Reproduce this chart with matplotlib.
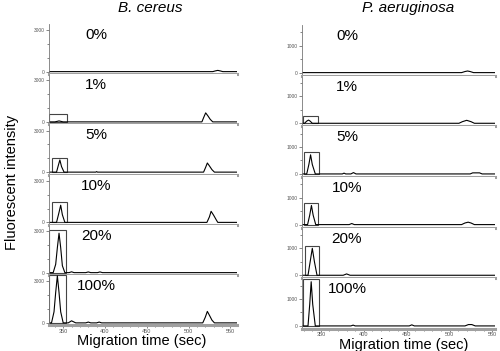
import matplotlib.pyplot as plt
from matplotlib.patches import Rectangle
from matplotlib.ticker import MultipleLocator

plt.rcParams['font.family'] = ['Liberation Sans', 'DejaVu Sans']

# percent labels shared by both columns
levels = ['0%', '1%', '5%', '10%', '20%', '100%']

# B. cereus traces (migration time in sec, fluorescent intensity)
bc_times = [
    [333, 529, 532, 535, 538, 541, 558],
    [333, 340, 343, 345, 347, 350, 516, 518, 520.5, 523, 526, 529, 558],
    [333, 342, 344, 346, 348, 351, 389, 390, 391, 518, 520.5, 522.5, 525, 528, 531, 558],
    [333, 342, 344.5, 347, 349, 352, 522, 525, 527, 530, 533, 535, 558],
    [333, 338, 341, 343, 345, 347, 349, 352, 357, 360, 363, 377, 380, 383, 391, 394, 397, 558],
    [333, 336, 339, 341, 343, 345, 347, 350, 356, 360, 365, 377, 380, 383, 390, 393, 396,
     517, 520, 522.5, 525, 528, 531, 558],
]
bc_vals = [
    [0, 0, 50, 90, 50, 0, 0],
    [0, 0, 40, 70, 40, 0, 0, 300, 650, 450, 180, 0, 0],
    [0, 0, 450, 880, 400, 0, 0, 40, 0, 0, 350, 660, 450, 180, 0, 0],
    [0, 0, 600, 1240, 550, 0, 0, 400, 800, 520, 200, 0, 0],
    [0, 0, 600, 1800, 2850, 1800, 500, 0, 0, 60, 0, 0, 50, 0, 0, 50, 0, 0],
    [0, 0, 800, 2200, 3400, 2200, 800, 0, 0, 150, 0, 0, 60, 0, 0, 60, 0,
     0, 400, 830, 550, 200, 0, 0],
]
# boxes around the first peak: (start, end, top); None = no box
bc_boxes = [None, (333.5, 354, 550), (336.5, 354.5, 1000), (336.5, 354.5, 1460),
            (333.5, 353, 3050), (333.5, 353, 3440)]

# P. aeruginosa traces
pa_times = [
    [328, 514, 518, 521, 524, 528, 553],
    [328, 331, 333.5, 335.6, 337.5, 340, 511, 515, 520, 525, 529, 553],
    [328, 333.5, 336, 338, 340, 343.5, 375, 377, 379, 385, 388, 391, 524, 527, 535, 538, 553],
    [328, 334.5, 337, 339, 341, 344, 383, 386, 389, 514, 518, 521.7, 525, 529, 553],
    [328, 335, 337.5, 340, 342.5, 345.5, 376, 380, 384, 553],
    [328, 335, 337, 338.7, 340.5, 343.5, 385, 387.6, 390, 453, 456, 459, 518, 522, 526, 530, 553],
]
pa_vals = [
    [0, 0, 40, 60, 40, 0, 0],
    [0, 0, 80, 120, 80, 0, 0, 60, 110, 60, 0, 0],
    [0, 0, 350, 710, 350, 0, 0, 30, 0, 0, 50, 0, 0, 40, 40, 0, 0],
    [0, 0, 350, 710, 350, 0, 0, 40, 0, 0, 60, 90, 60, 0, 0],
    [0, 0, 500, 1000, 500, 0, 0, 50, 0, 0],
    [0, 0, 800, 1640, 800, 0, 0, 30, 0, 0, 40, 0, 0, 50, 50, 0, 0],
]
pa_boxes = [None, (328.6, 346.5, 280), (330, 348.4, 820), (330, 347, 820),
            (331, 347.7, 1100), (328.6, 348, 1740)]


def draw_column(fig, left, width, top, bottom, times, vals, boxes,
                xlim, ylim, ymajor, yminor, label_x):
    n = len(times)
    h = (top - bottom) / n
    axes = []
    for i in range(n):
        ax = fig.add_axes([left, top - (i + 1) * h, width, h])
        ax.plot(times[i], vals[i], color='black', lw=0.8)
        if boxes[i] is not None:
            x0, x1, yt = boxes[i]
            ax.add_patch(Rectangle((x0, 0), x1 - x0, yt, fill=False,
                                   edgecolor='#444444', lw=0.8))
        ax.set_xlim(*xlim)
        ax.set_ylim(*ylim)
        ax.set_yticks([0, ymajor])
        ax.yaxis.set_minor_locator(MultipleLocator(yminor))
        ax.xaxis.set_major_locator(MultipleLocator(50))
        ax.xaxis.set_minor_locator(MultipleLocator(10))
        ax.tick_params(which='both', direction='out', width=0.5, colors='#555555',
                       labelsize=3.5, pad=1)
        ax.tick_params(which='major', length=2)
        ax.tick_params(which='minor', length=1.3)
        for s in ['top', 'right']:
            ax.spines[s].set_visible(False)
        ax.spines['left'].set_color('#777777')
        ax.spines['left'].set_linewidth(0.6)
        ax.spines['bottom'].set_color('#a0a0a0')
        ax.spines['bottom'].set_linewidth(2.2)
        if i < n - 1:
            ax.tick_params(axis='x', which='both', bottom=False, labelbottom=False)
        else:
            ax.tick_params(axis='x', labelsize=4, pad=0.3)
        ax.text(label_x, 0.78, levels[i], transform=ax.transAxes,
                ha='center', va='center', fontsize=11)
        axes.append(ax)
    return axes


fig = plt.figure(figsize=(5.0, 3.51), dpi=100)

draw_column(fig, 0.098, 0.376, 0.932, 0.073, bc_times, bc_vals, bc_boxes,
            (333, 558), (-180, 3450), 3000, 1000, 0.25)
draw_column(fig, 0.604, 0.386, 0.929, 0.063, pa_times, pa_vals, pa_boxes,
            (328, 553), (-110, 1770), 1000, 500, 0.233)

fig.text(0.30, 0.978, 'B. cereus', style='italic', fontsize=11, ha='center', va='center')
fig.text(0.816, 0.978, 'P. aeruginosa', style='italic', fontsize=11, ha='center', va='center')
fig.text(0.284, 0.029, 'Migration time (sec)', fontsize=10.5, ha='center', va='center')
fig.text(0.808, 0.018, 'Migration time (sec)', fontsize=10.5, ha='center', va='center')
fig.text(0.024, 0.479, 'Fluorescent intensity', fontsize=10.5, rotation=90,
         ha='center', va='center')

fig.savefig('out.png', dpi=100)
